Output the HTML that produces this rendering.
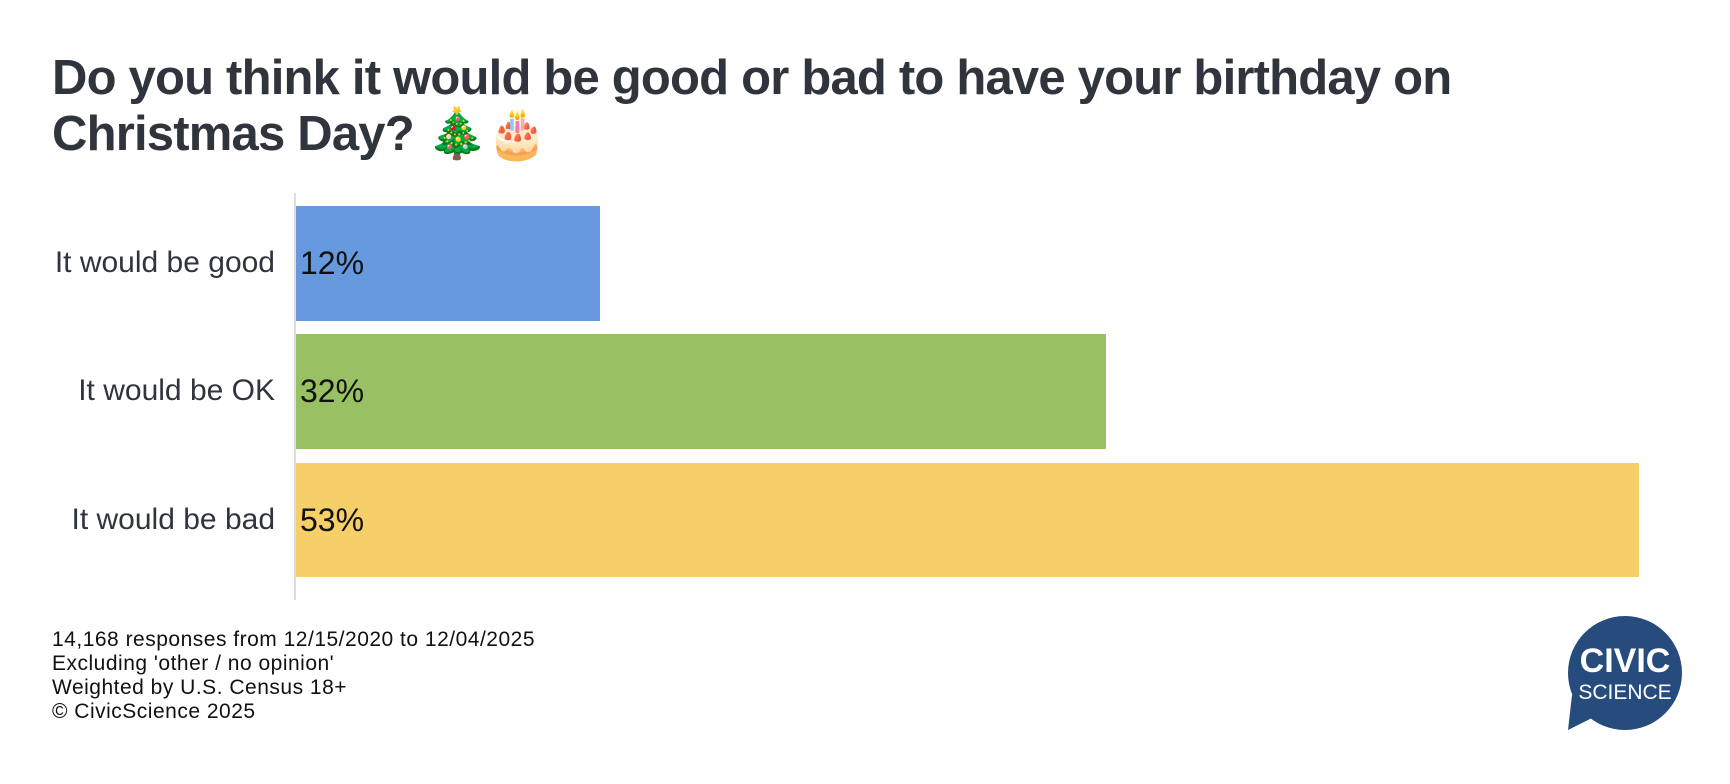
<!DOCTYPE html>
<html><head><meta charset="utf-8"><style>
body{margin:0;width:1730px;height:784px;background:#fff;position:relative;overflow:hidden;font-family:"Liberation Sans",sans-serif;color:#30343c}
.t{position:absolute;left:52px;top:50px;font-size:49px;font-weight:bold;line-height:56px;letter-spacing:-0.8px}
.lab{position:absolute;right:1455px;font-size:30px;color:#30343c}
.bar{position:absolute;left:296px}
.v{position:absolute;left:300px;font-size:32px;color:#111}
.f{position:absolute;left:52px;top:628px;font-size:21px;line-height:24px;color:#111;letter-spacing:0.5px}
</style></head><body>
<div class="t">Do you think it would be good or bad to have your birthday on<br>Christmas Day? 🎄🎂</div>
<div style="position:absolute;left:294px;top:193px;width:2px;height:407px;background:#ddd"></div>
<div class="bar" style="top:206px;width:304px;height:115px;background:#6699dd"></div>
<div class="bar" style="top:334px;width:810px;height:115px;background:#99c063"></div>
<div class="bar" style="top:463px;width:1343px;height:114px;background:#f6cf69"></div>
<div class="lab" style="top:246px">It would be good</div>
<div class="lab" style="top:374px">It would be OK</div>
<div class="lab" style="top:503px">It would be bad</div>
<div class="v" style="top:245px">12%</div>
<div class="v" style="top:373px">32%</div>
<div class="v" style="top:502px">53%</div>
<div class="f">14,168 responses from 12/15/2020 to 12/04/2025<br>Excluding 'other / no opinion'<br>Weighted by U.S. Census 18+<br>© CivicScience 2025</div>
<svg style="position:absolute;left:1560px;top:610px" width="130" height="130">
<circle cx="65" cy="63" r="57" fill="#264c7d"/>
<polygon points="12,85 8,120 38,105" fill="#264c7d"/>
<text x="65" y="62" text-anchor="middle" font-family="Liberation Sans" font-weight="bold" font-size="34" fill="#fff">CIVIC</text>
<text x="65" y="89" text-anchor="middle" font-family="Liberation Sans" font-size="21" fill="#fff">SCIENCE</text>
</svg>
</body></html>
